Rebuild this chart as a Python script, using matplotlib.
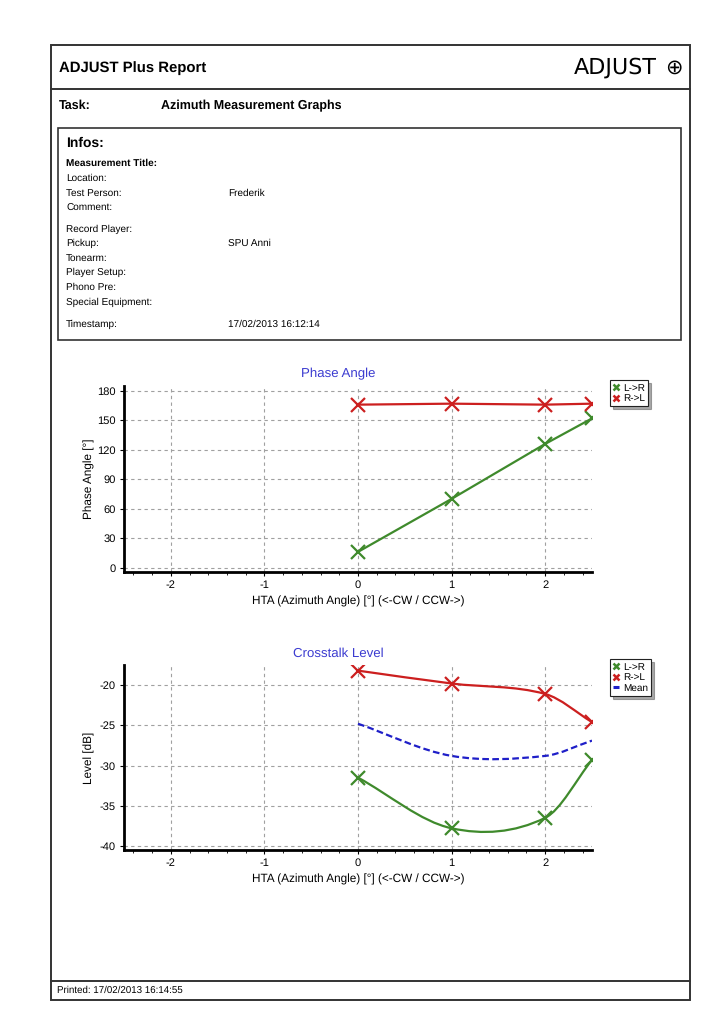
#!/usr/bin/env python3
# -*- coding: utf-8 -*-

import matplotlib
matplotlib.use("Agg")
import matplotlib.pyplot as plt
import numpy as np
from matplotlib.lines import Line2D
from matplotlib.patches import Rectangle, PathPatch
from matplotlib.path import Path
from matplotlib.ticker import MultipleLocator

# ---- data ----
HTA = [0, 1, 2, 2.5]

PHASE_L_TO_R = [16, 70, 126, 152]
PHASE_R_TO_L = [166, 167, 166, 167]

XTALK_L_TO_R = [-31.5, -37.8, -36.5, -29.3]
XTALK_R_TO_L = [-18.2, -19.8, -21.1, -24.6]
XTALK_MEAN = [-24.8, -28.8, -28.8, -26.9]

INFO_LABELS = ["Location:", "Test Person:", "Comment:", "Record Player:", "Pickup:",
               "Tonearm:", "Player Setup:", "Phono Pre:", "Special Equipment:", "Timestamp:"]
INFO_VALUES = ["", "Frederik", "", "", "SPU Anni", "", "", "", "", "17/02/2013 16:12:14"]
INFO_Y = [178, 193, 208, 229, 243, 258, 272, 287, 302, 324]

X_TICKS = [-2, -1, 0, 1, 2]
PHASE_TICKS = [0, 30, 60, 90, 120, 150, 180]
XTALK_TICKS = [-40, -35, -30, -25, -20]

GREEN = "#3f8a2c"
RED = "#cc1f1f"
BLUE = "#1f1fc8"
TITLE_BLUE = "#3b3bd0"

W, H = 724, 1024
AX_L, AX_R = 124, 592
FONT = ["Liberation Sans", "DejaVu Sans"]
plt.rcParams["font.family"] = FONT
plt.rcParams["axes.unicode_minus"] = False
plt.rcParams["text.hinting"] = "no_hinting"


def fx(px):
    return px / W


def fy(py):
    return 1 - py / H


def page_text(fig, x, y, s, **kw):
    fig.text(fx(x), fy(y), s, va="center", **kw)


def hline(fig, x0, x1, y, lw=1.4):
    fig.add_artist(Line2D([fx(x0), fx(x1)], [fy(y), fy(y)], color="#333333", lw=lw))


def box(fig, x0, y0, x1, y1, lw=1.4):
    fig.add_artist(Rectangle((fx(x0), fy(y1)), fx(x1) - fx(x0), fy(y0) - fy(y1),
                             fill=False, edgecolor="#333333", lw=lw))


def smooth_path(x, y):
    # cubic bezier through the measured points (how the report software draws)
    x = np.asarray(x, float)
    y = np.asarray(y, float)
    n = len(x)
    m = np.zeros(n)
    m[0] = (y[1] - y[0]) / (x[1] - x[0])
    m[-1] = (y[-1] - y[-2]) / (x[-1] - x[-2])
    for i in range(1, n - 1):
        m[i] = (y[i + 1] - y[i - 1]) / (x[i + 1] - x[i - 1])
    verts = [(x[0], y[0])]
    codes = [Path.MOVETO]
    for i in range(n - 1):
        h = x[i + 1] - x[i]
        verts += [(x[i] + h / 3, y[i] + m[i] * h / 3),
                  (x[i + 1] - h / 3, y[i + 1] - m[i + 1] * h / 3),
                  (x[i + 1], y[i + 1])]
        codes += [Path.CURVE4] * 3
    return Path(verts, codes)


def style_axes(ax, yticks, ylim, title, ylabel):
    ax.set_xlim(-2.5, 2.5)
    ax.set_ylim(*ylim)
    ax.set_xticks(X_TICKS)
    ax.set_yticks(yticks)
    ax.xaxis.set_minor_locator(MultipleLocator(0.2))
    for side in ("top", "right"):
        ax.spines[side].set_visible(False)
    for side in ("left", "bottom"):
        ax.spines[side].set_linewidth(2.0)
    ax.grid(True, which="major", color="#a0a0a0", linestyle=(0, (3, 3)), lw=0.8)
    ax.tick_params(which="major", direction="out", length=3, labelsize=8, pad=3)
    ax.tick_params(which="minor", direction="out", length=2)
    ax.set_xlabel("HTA (Azimuth Angle) [°] (<-CW / CCW->)", fontsize=8.5, labelpad=4)
    ax.set_ylabel(ylabel, fontsize=8.5)
    ax.yaxis.set_label_coords((95 - AX_L) / (AX_R - AX_L), 0.5)
    ax.set_title(title, color=TITLE_BLUE, fontsize=9.5, pad=6,
                 x=(338 - AX_L) / (AX_R - AX_L))


def make_legend(ax, with_mean, anchor_y):
    handles = [Line2D([], [], ls="none", marker="x", color=GREEN, ms=5, mew=1.8, label="L->R"),
               Line2D([], [], ls="none", marker="x", color=RED, ms=5, mew=1.8, label="R->L")]
    if with_mean:
        handles.append(Line2D([], [], ls="none", marker="_", color=BLUE, ms=5, mew=2.2, label="Mean"))
    leg = ax.legend(handles=handles, loc="upper left", bbox_to_anchor=(1.038, anchor_y),
                    frameon=True, fancybox=False, shadow={"ox": 2, "oy": -2, "color": "#555555"},
                    fontsize=7.2, handlelength=0.6, handletextpad=0.45, borderpad=0.3,
                    labelspacing=0.12, borderaxespad=0)
    leg.get_frame().set_edgecolor("#222222")
    leg.get_frame().set_linewidth(0.8)


def main():
    fig = plt.figure(figsize=(W / 100, H / 100), dpi=100)

    # page frame
    box(fig, 51, 45, 690, 1000)
    hline(fig, 51, 690, 89)
    hline(fig, 51, 690, 981)
    box(fig, 58, 128, 681, 340, lw=1.2)

    page_text(fig, 59, 68, "ADJUST Plus Report", fontsize=10.7, fontweight="bold")
    page_text(fig, 657, 68, "ADJUST", fontsize=16, ha="right", family=["DejaVu Sans"])
    page_text(fig, 674, 68, "⊕", fontsize=15, ha="center", family=["DejaVu Sans"])
    page_text(fig, 59, 106, "Task:", fontsize=9, fontweight="bold")
    page_text(fig, 161, 106, "Azimuth Measurement Graphs", fontsize=9, fontweight="bold")

    page_text(fig, 66, 143, "Infos:", fontsize=10, fontweight="bold")
    page_text(fig, 66, 163, "Measurement Title:", fontsize=7.2, fontweight="bold")
    for lab, val, y in zip(INFO_LABELS, INFO_VALUES, INFO_Y):
        page_text(fig, 66, y, lab, fontsize=7.2)
        if val:
            page_text(fig, 228, y, val, fontsize=7.2)

    page_text(fig, 57, 990, "Printed: 17/02/2013 16:14:55", fontsize=7)

    # ---- Phase Angle ----
    ax1 = fig.add_axes([fx(AX_L), fy(572), fx(AX_R) - fx(AX_L), fy(386) - fy(572)])
    style_axes(ax1, PHASE_TICKS, (-4.5, 185), "Phase Angle", "Phase Angle [°]")
    ax1.plot(HTA, PHASE_L_TO_R, color=GREEN, lw=1.6, marker="x", ms=10, mew=1.6, zorder=3)
    ax1.plot(HTA, PHASE_R_TO_L, color=RED, lw=1.6, marker="x", ms=10, mew=1.6, zorder=3)
    make_legend(ax1, False, 1.03)

    # ---- Crosstalk Level ----
    ax2 = fig.add_axes([fx(AX_L), fy(850), fx(AX_R) - fx(AX_L), fy(665) - fy(850)])
    style_axes(ax2, XTALK_TICKS, (-40.5, -17.5), "Crosstalk Level", "Level [dB]")
    for ys, col, ls in [(XTALK_L_TO_R, GREEN, "-"), (XTALK_R_TO_L, RED, "-"),
                        (XTALK_MEAN, BLUE, (0, (3, 1.5)))]:
        ax2.add_patch(PathPatch(smooth_path(HTA, ys), fill=False, edgecolor=col,
                                lw=1.6, linestyle=ls, zorder=3))
    ax2.plot(HTA, XTALK_L_TO_R, ls="none", color=GREEN, marker="x", ms=10, mew=1.6, zorder=4)
    ax2.plot(HTA, XTALK_R_TO_L, ls="none", color=RED, marker="x", ms=10, mew=1.6, zorder=4)
    make_legend(ax2, True, 1.03)

    fig.savefig("out.png", dpi=100)
    plt.close(fig)


if __name__ == "__main__":
    main()
